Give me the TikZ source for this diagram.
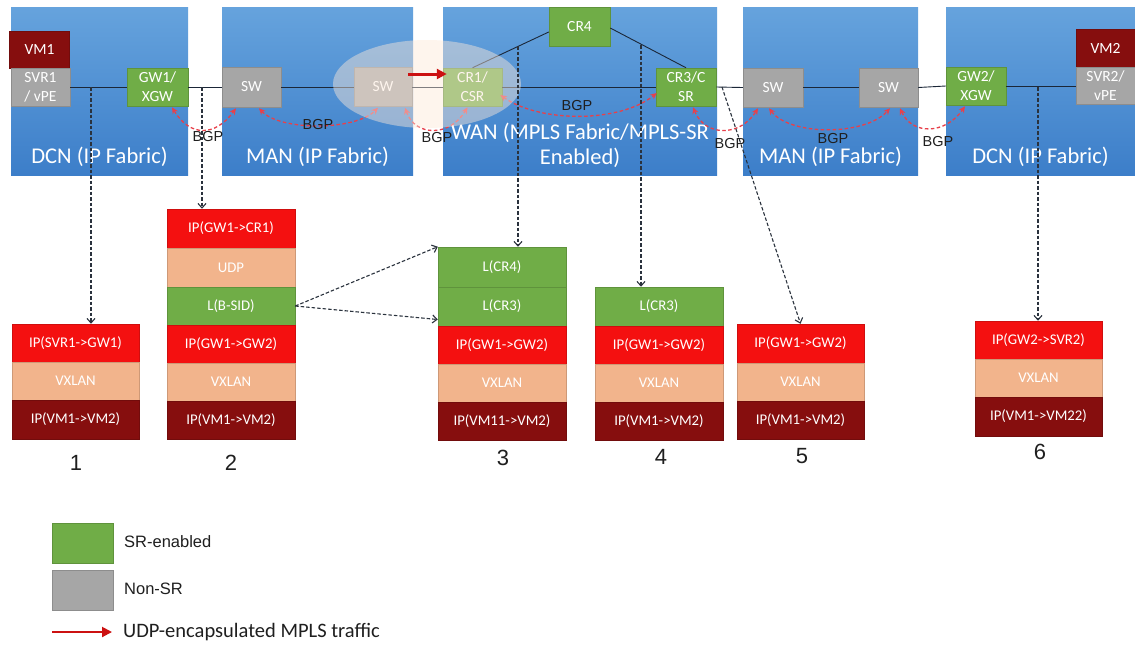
\documentclass[tikz,border=0pt]{standalone}
\usepackage{fontspec}
\setmainfont{Carlito}
\newfontfamily\arialf{Liberation Sans}
\usetikzlibrary{arrows.meta,calc,shapes.geometric}
\definecolor{panelTop}{HTML}{66A3DD}
\definecolor{panelBot}{HTML}{3C7EC9}
\definecolor{srgreen}{HTML}{70AD47}
\definecolor{nsgray}{HTML}{A6A6A6}
\definecolor{vmred}{HTML}{860E0E}
\definecolor{ipred}{HTML}{F41010}
\definecolor{salmon}{HTML}{F2B48C}
\definecolor{bgpred}{HTML}{E8404A}
\definecolor{arrred}{HTML}{CC1111}
\definecolor{linec}{HTML}{1B2738}
\definecolor{dashc}{HTML}{2A323D}
\definecolor{glow}{HTML}{FDE9D9}
\begin{document}
\begin{tikzpicture}[x=1pt,y=-1pt,
  panel/.style={rectangle, inner sep=0pt, top color=panelTop, bottom color=panelBot, draw=none},
  plabel/.style={text=white, align=center, font=\fontsize{22.5}{25}\selectfont},
  dev/.style={rectangle, inner sep=0pt, fill=#1, draw=#1!85!black, line width=0.5pt, text=white, align=center, font=\fontsize{15.5}{19}\selectfont},
  lay/.style={rectangle, inner sep=0pt, fill=#1, draw=#1!85!black, line width=0.5pt, text=white, minimum width=128pt, font=\fontsize{14.8}{16}\selectfont},
  link/.style={draw=linec, line width=0.9pt},
  drop/.style={draw=dashc, dash pattern=on 3.5pt off 2pt, line width=1.1pt, -{Straight Barb[length=4.5pt,width=8pt]}},
  bgp/.style={draw=bgpred, dash pattern=on 3.5pt off 2.5pt, line width=1.3pt, {Stealth[length=6.5pt,width=6pt]}-{Stealth[length=6.5pt,width=6pt]}},
  bgplbl/.style={font=\arialf\fontsize{14.5}{16}\selectfont, text=black!88, inner sep=0pt},
  redarrow/.style={draw=arrred, line width=#1, -{Triangle[length=10pt,width=10pt]}},
  num/.style={font=\arialf\fontsize{22}{24}\selectfont, text=black!88},
  legtxt/.style={anchor=west, text=black!88, inner sep=0pt}
]
\useasboundingbox (0,0) rectangle (1135,649);
\fill[white] (0,0) rectangle (1135,649);

% panels
\node[panel, minimum width=177pt, minimum height=168pt] (dcnA) at (99.5,91) {};
\node[panel, minimum width=191pt, minimum height=168pt] (manA) at (317.5,91) {};
\node[panel, minimum width=274pt, minimum height=168pt] (wan) at (580,91) {};
\node[panel, minimum width=175pt, minimum height=168pt] (manB) at (830.5,91) {};
\node[panel, minimum width=189pt, minimum height=168pt] (dcnB) at (1040.5,91) {};
\node[plabel] (ldcnA) at (99.5,157) {DCN (IP Fabric)};
\node[plabel] (lmanA) at (317.5,157) {MAN (IP Fabric)};
\node[plabel] (lwan) at (580,145) {WAN (MPLS Fabric/MPLS-SR\\Enabled)};
\node[plabel] (lmanB) at (830.5,157) {MAN (IP Fabric)};
\node[plabel] (ldcnB) at (1040.5,157) {DCN (IP Fabric)};

% devices
\node[dev=vmred, minimum width=60pt, minimum height=37pt] (vm1) at (39.5,49.5) {VM1};
\node[dev=nsgray, minimum width=59pt, minimum height=38pt] (svr1) at (40.5,87) {SVR1\\/ vPE};
\node[dev=srgreen, minimum width=61pt, minimum height=38pt] (gw1) at (157.5,87) {GW1/\\XGW};
\node[dev=nsgray, minimum width=59pt, minimum height=40pt] (sw1) at (251.5,87) {SW};
\node[dev=nsgray, minimum width=58pt, minimum height=39pt] (sw2) at (383,87) {SW};
\node[dev=srgreen, minimum width=59pt, minimum height=38pt] (cr1) at (472.5,87) {CR1/\\CSR};
\node[dev=srgreen, minimum width=61pt, minimum height=39pt] (cr4) at (579.5,26.5) {CR4};
\node[dev=srgreen, minimum width=60pt, minimum height=38pt] (cr3) at (686,87) {CR3/C\\SR};
\node[dev=nsgray, minimum width=60pt, minimum height=39pt] (sw3) at (773,87.5) {SW};
\node[dev=nsgray, minimum width=59pt, minimum height=39pt] (sw4) at (888.5,87.5) {SW};
\node[dev=srgreen, minimum width=60pt, minimum height=38pt] (gw2) at (976,86) {GW2/\\XGW};
\node[dev=vmred, minimum width=59pt, minimum height=38pt] (vm2) at (1105.5,48) {VM2};
\node[dev=nsgray, minimum width=59pt, minimum height=37pt] (svr2) at (1105.5,86) {SVR2/\\vPE};

% links
\draw[link] (svr1.east) -- (gw1.west);
\draw[link] (gw1.east) -- (sw1.west);
\draw[link] (sw1.east) -- (sw2.west);
\draw[link] (sw2.east) -- (cr1.west);
\draw[link] (cr1.east) -- (cr3.west);
\draw[link] (cr3.east) -- (sw3.west);
\draw[link] (sw3.east) -- (sw4.west);
\draw[link] (sw4.east) -- (gw2.west);
\draw[link] (gw2.east) -- (svr2.west);
\draw[link] (cr1.north) -- ($(cr4.west)+(0,5.5)$);
\draw[link] ($(cr4.east)+(0,1.5)$) -- (cr3.north);

% BGP sessions
\draw[bgp] ($(gw1.south)+(14.5,1)$) .. controls (190,137) and (215,137) .. ($(sw1.south)+(-15.5,1)$);
\draw[bgp] ($(sw1.south)+(7.5,1)$) .. controls (280,131) and (355,131) .. ($(sw2.south)+(-5,1)$);
\draw[bgp] ($(sw2.south)+(22,1)$) .. controls (415,137) and (450,137) .. ($(cr1.south)+(-5,1)$);
\draw[bgp] ($(cr1.east)+(-2,8)$) .. controls (540,123) and (620,123) .. ($(cr3.west)+(1,6)$);
\draw[bgp] ($(cr3.south)+(7,1)$) .. controls (705,137) and (740,137) .. ($(sw3.south)+(-15,1)$);
\draw[bgp] ($(sw3.south)+(-4,1)$) .. controls (790,136) and (865,136) .. ($(sw4.south)+(1.5,1)$);
\draw[bgp] ($(sw4.south)+(11.5,1)$) .. controls (912,135) and (945,135) .. ($(gw2.south)+(-11,1)$);
\node[bgplbl] (b1) at (208,137) {BGP};
\node[bgplbl] (b2) at (318,125) {BGP};
\node[bgplbl] (b3) at (437,138) {BGP};
\node[bgplbl] (b4) at (577,106) {BGP};
\node[bgplbl] (b5) at (730,144) {BGP};
\node[bgplbl] (b6) at (833,139) {BGP};
\node[bgplbl] (b7) at (938,142) {BGP};

% highlight ellipse
\node[ellipse, fill=glow, fill opacity=0.45, draw=none, minimum width=188pt, minimum height=88pt, inner sep=0pt] (glowE) at (427,84) {};

% UDP-encapsulated MPLS arrow
\draw[redarrow=3pt] ($(sw2.east)+(-4,-13)$) -- ($(cr1.west)+(4,-13)$);

% stacks
\node[lay=ipred, minimum height=38pt, minimum width=127pt] (s1a) at (75.5,343) {IP(SVR1->GW1)};
\node[lay=salmon, minimum height=38pt, minimum width=127pt] (s1b) at (75.5,381) {VXLAN};
\node[lay=vmred, minimum height=39pt, minimum width=127pt] (s1c) at (75.5,419.5) {IP(VM1->VM2)};

\node[lay=ipred, minimum height=39pt] (s2a) at (231,228.5) {IP(GW1->CR1)};
\node[lay=salmon, minimum height=39pt] (s2b) at (231,267.5) {UDP};
\node[lay=srgreen, minimum height=38pt] (s2c) at (231,306) {L(B-SID)};
\node[lay=ipred, minimum height=38pt] (s2d) at (231,344) {IP(GW1->GW2)};
\node[lay=salmon, minimum height=38pt] (s2e) at (231,382) {VXLAN};
\node[lay=vmred, minimum height=38pt] (s2f) at (231,420) {IP(VM1->VM2)};

\node[lay=srgreen, minimum height=40pt] (s3a) at (502,267) {L(CR4)};
\node[lay=srgreen, minimum height=39pt] (s3b) at (502,306.5) {L(CR3)};
\node[lay=ipred, minimum height=38pt] (s3c) at (502,345) {IP(GW1->GW2)};
\node[lay=salmon, minimum height=38pt] (s3d) at (502,383) {VXLAN};
\node[lay=vmred, minimum height=38pt] (s3e) at (502,421) {IP(VM11->VM2)};

\node[lay=srgreen, minimum height=39pt] (s4a) at (659,306.5) {L(CR3)};
\node[lay=ipred, minimum height=38pt] (s4b) at (659,345) {IP(GW1->GW2)};
\node[lay=salmon, minimum height=38pt] (s4c) at (659,383) {VXLAN};
\node[lay=vmred, minimum height=38pt] (s4d) at (659,421) {IP(VM1->VM2)};

\node[lay=ipred, minimum height=39pt, minimum width=127pt] (s5a) at (800.5,343.5) {IP(GW1->GW2)};
\node[lay=salmon, minimum height=38pt, minimum width=127pt] (s5b) at (800.5,382) {VXLAN};
\node[lay=vmred, minimum height=38pt, minimum width=127pt] (s5c) at (800.5,420) {IP(VM1->VM2)};

\node[lay=ipred, minimum height=38pt, minimum width=127pt] (s6a) at (1038.5,340) {IP(GW2->SVR2)};
\node[lay=salmon, minimum height=38pt, minimum width=127pt] (s6b) at (1038.5,378) {VXLAN};
\node[lay=vmred, minimum height=39pt, minimum width=127pt] (s6c) at (1038.5,416.5) {IP(VM1->VM22)};

\node[num] (n1) at (76,463) {1};
\node[num] (n2) at (231,463) {2};
\node[num] (n3) at (503,458) {3};
\node[num] (n4) at (661,457) {4};
\node[num] (n5) at (802,456) {5};
\node[num] (n6) at (1040,452) {6};

% drop lines to stacks
\coordinate (d1) at (91,87);
\coordinate (d2) at (202,87);
\coordinate (d3) at (518,46);
\coordinate (d4) at (641,45);
\coordinate (d5) at (722,87);
\coordinate (d6) at (1038,87);
\draw[drop] (d1) -- (d1 |- s1a.north);
\draw[drop] (d2) -- (d2 |- s2a.north);
\draw[drop] (d3) -- (d3 |- s3a.north);
\draw[drop] (d4) -- (d4 |- s4a.north);
\draw[drop] (d5) -- (s5a.north);
\draw[drop] (d6) -- (d6 |- s6a.north);
\draw[drop] (s2c.east) -- (s3a.north west);
\draw[drop] (s2c.east) -- ($(s3b.west)+(0,13)$);

% legend
\node[dev=srgreen, minimum width=61pt, minimum height=40pt] (lg1) at (82.5,543) {};
\node[dev=nsgray, minimum width=61pt, minimum height=40pt] (lg2) at (82.5,590) {};
\node[legtxt, font=\arialf\fontsize{16.5}{18}\selectfont] (lt1) at (124,542) {SR-enabled};
\node[legtxt, font=\arialf\fontsize{16.5}{18}\selectfont] (lt2) at (124,589) {Non-SR};
\coordinate (la) at (52,632);
\coordinate (lb) at (112,632);
\draw[redarrow=2pt] (la) -- (lb);
\node[legtxt, font=\fontsize{20.5}{22}\selectfont] (lt3) at (123,632) {UDP-encapsulated MPLS traffic};
\end{tikzpicture}
\end{document}
